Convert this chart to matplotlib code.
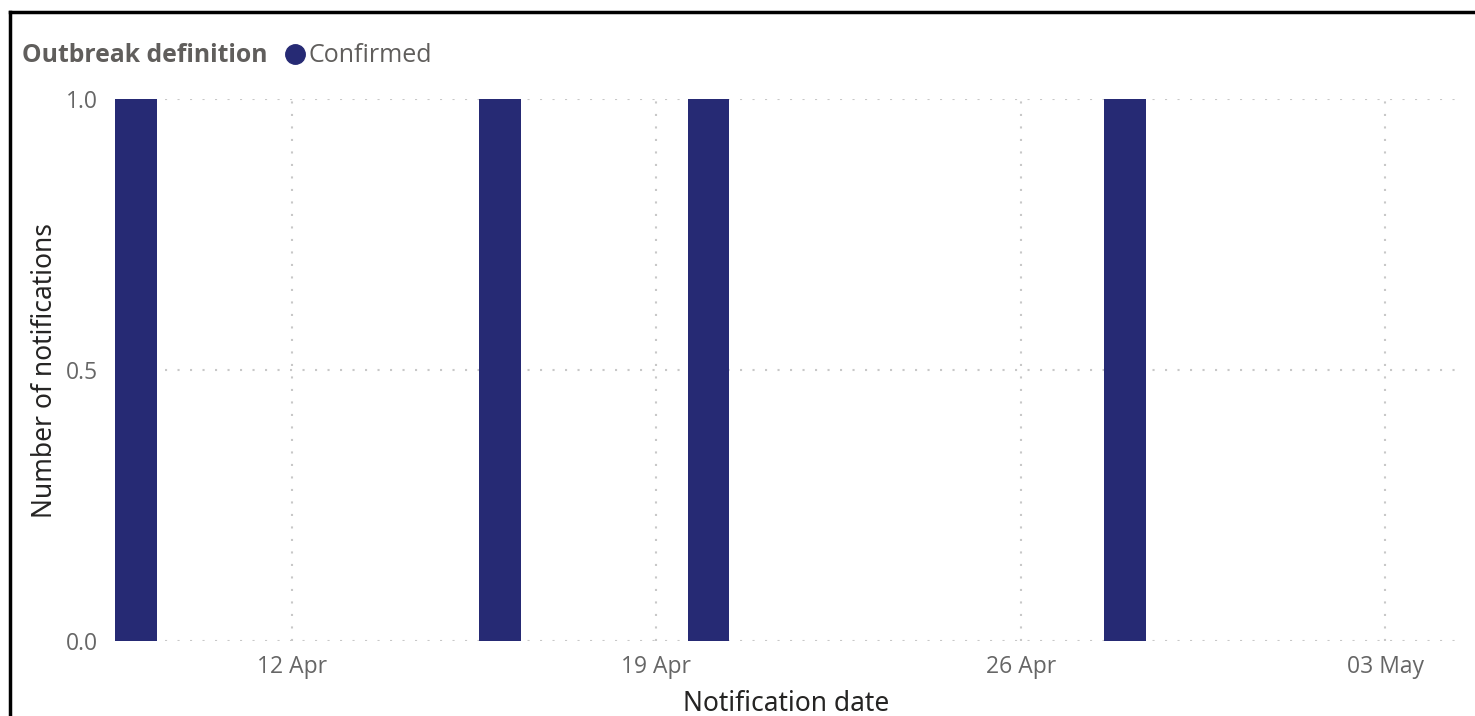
import matplotlib.pyplot as plt
import matplotlib.dates as mdates
from matplotlib.lines import Line2D
import datetime as dt

# notifications per day (confirmed)
dates = [dt.date(2024, 4, 9), dt.date(2024, 4, 16), dt.date(2024, 4, 20), dt.date(2024, 4, 28)]
counts = [1, 1, 1, 1]
tick_dates = [dt.date(2024, 4, 12), dt.date(2024, 4, 19), dt.date(2024, 4, 26), dt.date(2024, 5, 3)]
tick_labels = ['12 Apr', '19 Apr', '26 Apr', '03 May']

bar_color = '#262A74'
grey = '#666666'

fig = plt.figure(figsize=(14.75, 7.16), dpi=100)
ax = fig.add_axes([115 / 1475, 75 / 716, (1458 - 115) / 1475, (641 - 99) / 716])

ax.bar(dates, counts, width=0.8, color=bar_color, zorder=3)

ax.set_xlim(mdates.date2num(dt.date(2024, 4, 9)) - 0.4, mdates.date2num(dt.date(2024, 5, 4)) + 0.4)
ax.set_ylim(0, 1)
ax.set_xticks(tick_dates)
ax.set_xticklabels(tick_labels)
ax.set_yticks([0, 0.5, 1.0])
ax.set_yticklabels(['0.0', '0.5', '1.0'])

for s in ax.spines.values():
    s.set_visible(False)
ax.tick_params(length=0, labelsize=16.5, labelcolor=grey)
ax.tick_params(axis='y', pad=12)
ax.tick_params(axis='x', pad=10)
for lab in ax.get_xticklabels() + ax.get_yticklabels():
    lab.set_fontfamily('Open Sans')

ax.grid(True, color='#c8c8c8', linestyle=(0, (1, 5)), linewidth=1.5, zorder=0)

ax.set_xlabel('Notification date', fontsize=19, color='#252423', family='Noto Sans', labelpad=8)
ax.set_ylabel('Number of notifications', fontsize=19, color='#252423', family='Noto Sans', labelpad=5)

# legend header
fig.text(22 / 1475, 1 - 56 / 716, 'Outbreak definition', fontsize=17.8, fontweight='bold',
         color='#605E5C', family='Open Sans', va='center')
fig.text(309 / 1475, 1 - 56 / 716, 'Confirmed', fontsize=18, color='#605E5C',
         family='Open Sans', va='center')
fig.add_artist(Line2D([295 / 1475], [1 - 54 / 716], marker='o', markersize=14,
                      color=bar_color, transform=fig.transFigure))

# frame border
fig.add_artist(Line2D([10 / 1475, 10 / 1475], [0, 1 - 12 / 716], color='black', lw=2.5,
                      transform=fig.transFigure))
fig.add_artist(Line2D([10 / 1475, 1], [1 - 12 / 716, 1 - 12 / 716], color='black', lw=2.5,
                      transform=fig.transFigure))

fig.savefig('out.png', dpi=100)
